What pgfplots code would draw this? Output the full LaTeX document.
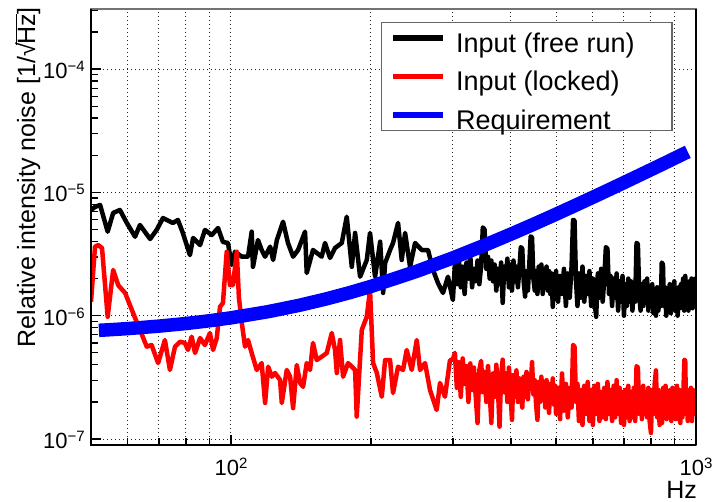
\documentclass[border=0pt]{standalone}
\usepackage{fontspec}
\setmainfont{Liberation Sans}
\usepackage{pgfplots}
\pgfplotsset{compat=1.18}
\newcommand\sups[1]{\raisebox{7bp}{\fontsize{15bp}{15bp}\selectfont #1}}
\newcommand\lgd[1]{\makebox[207bp][l]{\rule[-9bp]{0pt}{38.5bp}#1}}
\newcommand\sqrtHz{\mbox{√\kern-0.06em$\overline{\mbox{Hz}}$}}
\begin{document}
\begin{tikzpicture}
\begin{axis}[
  name=ax,
  at={(91bp,57bp)}, anchor=south west,
  scale only axis, width=605bp, height=436bp,
  xmode=log, ymode=log,
  xmin=50, xmax=1000, ymin=8.94e-8, ymax=3.07e-4,
  xtick={100,1000}, xticklabels={10\sups{2},10\sups{3}},
  minor xtick={60,70,80,90,200,300,400,500,600,700,800,900},
  ytick={1e-7,1e-6,1e-5,1e-4},
  yticklabels={10\sups{−7},10\sups{−6},10\sups{−5},10\sups{−4}},
  minor ytick={2e-7,3e-7,4e-7,5e-7,6e-7,7e-7,8e-7,9e-7,2e-6,3e-6,4e-6,5e-6,6e-6,7e-6,8e-6,9e-6,2e-5,3e-5,4e-5,5e-5,6e-5,7e-5,8e-5,9e-5,2e-4,3e-4},
  tick pos=left, tick align=inside,
  major tick length=10bp, minor tick length=7bp,
  every tick/.style={black, line width=1.3bp},
  xmajorgrids, xminorgrids, ymajorgrids,
  grid style={black!85, line width=1bp, dash pattern=on 1.2bp off 2.8bp},
  ticklabel style={font=\fontsize{22bp}{24bp}\selectfont},
  xticklabel style={inner sep=0pt, anchor=north, yshift=-13bp},
  yticklabel style={inner sep=0pt, anchor=east, xshift=-6bp, yshift=-1bp},
  axis line style={black!55, line width=1.5bp},
  legend image code/.code={\draw[#1] (0bp,0bp) -- (50bp,0bp);},
  legend style={at={(0.4793,0.9700)}, anchor=north west, draw=black!60, line width=1.2bp,
    fill=white, font=\fontsize{27bp}{30bp}\selectfont, inner xsep=9bp, inner ysep=0bp,
    nodes={inner sep=0pt}, column sep=10bp, row sep=7.5bp, cells={anchor=west}},
]
\addplot[black, line width=4.5bp, line join=round, forget plot] coordinates {
(50,7.2e-6)(51.0,7.62e-6)(52.3,7.91e-6)(54.3,4.8e-6)(55.8,6.81e-6)(57.7,7.2e-6)(59.7,5.65e-6)
(62.2,4.37e-6)(63.7,5.44e-6)(67.0,4.19e-6)(69.2,4.96e-6)(71.4,6.19e-6)(75.0,5.65e-6)(76.9,5.97e-6)
(78.8,4.69e-6)(81.6,3.1e-6)(82.9,4.27e-6)(85.8,3.74e-6)(87.9,4.96e-6)(90.9,4.51e-6)(93.8,5.14e-6)
(96.1,3.96e-6)(98.5,3.89e-6)(100.3,2.58e-6)(102.0,3.3e-6)(105.5,3.01e-6)(108.8,3.01e-6)(110.8,4.8e-6)
(111.5,2.49e-6)(114.3,4.11e-6)(116.4,3.41e-6)(118.4,3.01e-6)(121.4,3.63e-6)(123.2,2.83e-6)(125.5,4.11e-6)
(129.4,5.78e-6)(132.6,3.89e-6)(136.0,3.01e-6)(139.4,3.41e-6)(144.3,4.8e-6)(145.5,2.22e-6)(150.1,3.41e-6)
(156.7,3.01e-6)(159.3,3.89e-6)(163.3,2.94e-6)(167.4,3.54e-6)(173.1,3.89e-6)(177.4,6.35e-6)(181.9,2.49e-6)
(184.9,4.69e-6)(189.5,2.07e-6)(195.9,2.83e-6)(199.1,4.69e-6)(204.1,2.07e-6)(209.3,3.98e-6)(212.4,1.53e-6)
(214.5,2.67e-6)(219.8,3.41e-6)(223.1,3.89e-6)(228.7,5.65e-6)(232.9,2.83e-6)(236.8,4.69e-6)(242.7,2.49e-6)
(248.8,3.89e-6)(257.2,3.41e-6)(265.3,3.41e-6)(271.9,2.35e-6)(278.7,1.84e-6)(285.7,1.53e-6)(292.8,2.07e-6)
(300,1.34e-6)(303,2.6e-6)(306,1.8e-6)(309,2.9e-6)(312,1.7e-6)(315,2.5e-6)(318,1.5e-6)(321,2.7e-6)
(324,2.0e-6)(327,3.1e-6)(330,1.7e-6)(333,2.4e-6)(336,1.9e-6)(339,2.8e-6)(342,1.8e-6)(345,2.5e-6)
(348,5.2e-6)(351,5.0e-6)(354,2.4e-6)(357,3.0e-6)(360,2.0e-6)(363,2.8e-6)(366,1.9e-6)(369,2.6e-6)
(372,1.6e-6)(375,2.4e-6)(378,1.8e-6)(381,2.7e-6)(384,1.27e-6)(387,2.5e-6)(390,2.0e-6)(393,2.9e-6)
(396,1.7e-6)(399,2.6e-6)(402,1.6e-6)(405,2.8e-6)(408,1.9e-6)(411,2.5e-6)(414,1.7e-6)(417,2.4e-6)
(420,3.6e-6)(423,3.5e-6)(426,1.9e-6)(429,1.43e-6)(432,2.3e-6)(435,1.6e-6)(438,2.6e-6)(441,4.4e-6)
(444,4.3e-6)(447,2.0e-6)(450,1.6e-6)(453,2.3e-6)(456,1.5e-6)(459,2.5e-6)(462,1.8e-6)(465,2.6e-6)
(468,1.5e-6)(471,2.4e-6)(474,1.7e-6)(477,2.5e-6)(480,1.6e-6)(483,2.3e-6)(486,1.5e-6)(489,2.2e-6)
(492,1.18e-6)(495,2.1e-6)(498,1.6e-6)
(500,2.3e-6)(505,1.3e-6)(510,2.1e-6)(515,1.5e-6)(520,2.4e-6)(525,1.2e-6)(530,2.2e-6)(535,1.4e-6)
(540,2.5e-6)(544,6.0e-6)(548,5.9e-6)(552,1.9e-6)(556,1.2e-6)(560,2.2e-6)(565,1.4e-6)(570,2.5e-6)
(575,1.3e-6)(580,2.1e-6)(585,1.5e-6)(590,2.3e-6)(595,1.2e-6)(600,2.0e-6)(605,1.3e-6)(610,0.98e-6)
(615,2.2e-6)(620,1.4e-6)(625,2.4e-6)(630,1.3e-6)(635,2.0e-6)(640,3.6e-6)(645,3.5e-6)(650,1.5e-6)
(655,2.1e-6)(660,1.2e-6)(665,2.0e-6)(670,1.4e-6)(675,2.2e-6)(680,1.1e-6)(685,1.9e-6)(690,1.3e-6)
(695,2.1e-6)(700,1.0e-6)(705,1.8e-6)(710,1.2e-6)(715,2.0e-6)(720,1.3e-6)(725,1.9e-6)(730,1.1e-6)
(735,1.8e-6)(740,1.3e-6)(745,3.9e-6)(750,3.8e-6)(755,1.5e-6)(760,1.1e-6)(765,1.8e-6)(770,1.2e-6)
(775,1.9e-6)(780,1.3e-6)(785,2.0e-6)(790,1.1e-6)(795,1.7e-6)(800,1.2e-6)(805,1.8e-6)(810,1.05e-6)
(815,1.6e-6)(820,1.0e-6)(825,1.7e-6)(830,1.1e-6)(835,1.6e-6)(840,1.2e-6)(844,2.7e-6)(849,2.6e-6)
(853,1.2e-6)(858,1.7e-6)(863,1.0e-6)(868,1.6e-6)(873,1.1e-6)(878,1.8e-6)(883,1.05e-6)(888,1.7e-6)
(893,1.2e-6)(898,1.9e-6)(903,1.1e-6)(908,1.6e-6)(913,1.0e-6)(918,1.7e-6)(923,1.15e-6)(928,1.8e-6)
(933,1.2e-6)(938,2.0e-6)(943,1.1e-6)(948,2.1e-6)(953,1.2e-6)(958,1.8e-6)(963,1.1e-6)(968,1.9e-6)
(973,1.2e-6)(978,2.0e-6)(983,1.15e-6)(988,1.9e-6)(993,1.3e-6)(997,2.0e-6)(1000,1.4e-6)
};
\addplot[red, line width=4.5bp, line join=round, forget plot] coordinates {
(50,1.3e-6)(51.0,3.63e-6)(51.8,3.74e-6)(52.8,3.54e-6)(54.3,9.8e-7)(55.8,2.35e-6)(57.2,1.77e-6)
(59.2,1.53e-6)(62.2,9.58e-7)(65.9,5.61e-7)(67.5,5.78e-7)(69.7,4.13e-7)(72.1,6.35e-7)(73.9,3.63e-7)
(75.8,5.61e-7)(77.7,6.15e-7)(79.6,6.01e-7)(80.8,5.27e-7)(82.3,6.76e-7)(83.7,4.98e-7)(85.8,6.59e-7)
(87.9,5.78e-7)(90.1,7.24e-7)(91.5,5.27e-7)(93.2,6.59e-7)(94.7,1.18e-6)(96.1,1.27e-6)(97.9,3.3e-6)
(99.5,1.77e-6)(101.0,1.77e-6)(102.9,3.3e-6)(104.0,1.4e-6)(105.5,8.73e-7)(107.2,5.61e-7)(108.8,6.35e-7)
(110.8,4.98e-7)(113.6,3.63e-7)(116.4,4.13e-7)(118.4,1.96e-7)(120.2,3.86e-7)(122.4,3.2e-7)(124.4,3.43e-7)
(127.5,3.01e-7)(128.6,1.96e-7)(131.8,3.63e-7)(134.0,3.2e-7)(136.0,1.78e-7)(138.5,3.98e-7)(140.8,2.85e-7)
(142.9,2.65e-7)(145.5,4.13e-7)(147.9,3.63e-7)(150.1,6.01e-7)(152.9,4.37e-7)(156.7,4.65e-7)(160.7,4.98e-7)
(164.7,7.24e-7)(167.4,5.27e-7)(168.9,3.43e-7)(171.6,6.35e-7)(174.2,3.2e-7)(178.6,4.13e-7)(184.9,3.63e-7)
(186.4,1.52e-7)(191.1,7.66e-7)(195.9,9.8e-7)(199.1,1.62e-6)(202.1,4.13e-7)(205.9,3.43e-7)(211.0,2.2e-7)
(214.5,4.37e-7)(219.8,4.37e-7)(223.1,2.36e-7)(228.7,3.86e-7)(234.4,3.63e-7)(238.7,5.27e-7)(244.7,3.63e-7)
(250.9,6.35e-7)(255.0,3.63e-7)(261.4,4.13e-7)(267.9,2.5e-7)(276.9,1.72e-7)(281.5,2.85e-7)(288.5,2.2e-7)
(295.8,4.37e-7)
(300,4.4e-7)(303,5.0e-7)(306,2.6e-7)(309,4.2e-7)(312,2.2e-7)(315,4.5e-7)(318,2.8e-7)(321,3.9e-7)
(324,2.0e-7)(327,4.1e-7)(330,2.5e-7)(333,3.8e-7)(336,2.2e-7)(339,1.35e-7)(342,3.6e-7)(345,4.3e-7)
(348,2.4e-7)(351,3.5e-7)(354,2.0e-7)(357,3.9e-7)(360,2.4e-7)(363,1.35e-7)(366,3.4e-7)(369,2.2e-7)
(372,4.0e-7)(375,2.6e-7)(378,1.26e-7)(381,3.3e-7)(384,4.4e-7)(387,2.4e-7)(390,3.4e-7)(393,2.0e-7)
(396,3.8e-7)(399,2.5e-7)(402,1.43e-7)(405,3.3e-7)(408,2.2e-7)(411,3.6e-7)(414,2.0e-7)(417,3.1e-7)
(420,2.3e-7)(423,1.8e-7)(426,3.2e-7)(429,2.2e-7)(432,3.5e-7)(435,2.1e-7)(438,3.3e-7)(441,2.6e-7)
(444,4.2e-7)(447,2.3e-7)(450,3.0e-7)(453,1.9e-7)(456,1.43e-7)(459,2.9e-7)(462,2.0e-7)(465,3.2e-7)
(468,2.2e-7)(471,2.9e-7)(474,1.8e-7)(477,3.0e-7)(480,2.2e-7)(483,1.63e-7)(486,2.8e-7)(489,2.1e-7)
(492,3.1e-7)(495,1.9e-7)(498,2.7e-7)
(500,1.6e-7)(505,2.6e-7)(510,1.45e-7)(515,3.4e-7)(520,1.7e-7)(525,2.8e-7)(530,1.5e-7)(535,2.6e-7)
(540,1.8e-7)(544,5.8e-7)(548,5.6e-7)(552,2.0e-7)(556,2.8e-7)(560,1.4e-7)(565,2.5e-7)(570,1.3e-7)
(575,2.7e-7)(580,1.6e-7)(585,2.9e-7)(590,1.4e-7)(595,2.5e-7)(600,1.3e-7)(605,2.7e-7)(610,1.6e-7)
(615,2.8e-7)(620,1.4e-7)(625,2.4e-7)(630,1.5e-7)(635,2.6e-7)(640,1.45e-7)(645,2.9e-7)(650,1.6e-7)
(655,2.5e-7)(660,1.4e-7)(665,2.7e-7)(670,1.5e-7)(675,3.0e-7)(680,1.6e-7)(685,2.6e-7)(690,1.35e-7)
(695,2.4e-7)(700,1.3e-7)(705,2.5e-7)(710,1.5e-7)(715,2.7e-7)(720,1.4e-7)(725,2.4e-7)(730,1.5e-7)
(735,2.6e-7)(740,1.4e-7)(745,3.9e-7)(750,3.8e-7)(755,1.6e-7)(760,2.5e-7)(765,1.45e-7)(770,2.7e-7)
(775,1.6e-7)(780,2.4e-7)(785,1.5e-7)(790,2.6e-7)(795,1.4e-7)(800,1.12e-7)(805,2.5e-7)(810,1.6e-7)
(815,2.8e-7)(820,3.6e-7)(825,1.5e-7)(830,2.5e-7)(835,1.3e-7)(840,2.4e-7)(845,1.35e-7)(850,2.6e-7)
(855,1.5e-7)(860,2.7e-7)(865,1.45e-7)(870,2.4e-7)(875,1.6e-7)(880,2.5e-7)(885,1.4e-7)(890,2.6e-7)
(895,1.5e-7)(900,2.4e-7)(905,1.45e-7)(910,2.7e-7)(915,1.5e-7)(920,2.5e-7)(925,1.35e-7)(930,2.4e-7)
(935,1.5e-7)(940,2.6e-7)(944,4.4e-7)(948,4.3e-7)(952,1.6e-7)(956,2.5e-7)(960,1.4e-7)(965,2.4e-7)
(970,1.5e-7)(975,2.6e-7)(980,1.4e-7)(985,2.5e-7)(990,1.6e-7)(995,2.4e-7)(1000,2.1e-7)
};
\addplot[blue, line width=13.5bp, forget plot] coordinates {
(52,7.61e-7)(55,7.70e-7)(60,7.86e-7)(70,8.23e-7)(80,8.64e-7)(90,9.10e-7)(100,9.61e-7)
(120,1.077e-6)(140,1.212e-6)(160,1.366e-6)(180,1.538e-6)(200,1.728e-6)(250,2.281e-6)
(300,2.942e-6)(350,3.712e-6)(400,4.588e-6)(450,5.566e-6)(500,6.652e-6)(550,7.840e-6)
(600,9.126e-6)(650,1.051e-5)(700,1.200e-5)(750,1.3585e-5)(800,1.527e-5)(850,1.705e-5)
(900,1.894e-5)(960,2.132e-5)
};
\addlegendimage{black, line width=5.5bp}
\addlegendentry{\lgd{Input (free run)}}
\addlegendimage{red, line width=5.5bp}
\addlegendentry{\lgd{Input (locked)}}
\addlegendimage{blue, line width=5.5bp}
\addlegendentry{\lgd{Requirement}}
\end{axis}
\draw[black, line width=1.6bp] (ax.north east) -- (ax.south east);
\draw[black, line width=2.6bp] (ax.north west) -- (ax.south west) -- (ax.south east);
\node[anchor=base east, inner sep=0pt, font=\fontsize{25bp}{28bp}\selectfont] at (697bp,4bp) {Hz};
\node[rotate=90, anchor=base east, inner sep=0pt, font=\fontsize{25bp}{28bp}\selectfont] at (35bp,495bp) {Relative intensity noise [1/\sqrtHz]};
\pgfresetboundingbox
\path[use as bounding box] (0,0) rectangle (713bp,502bp);
\end{tikzpicture}
\end{document}
